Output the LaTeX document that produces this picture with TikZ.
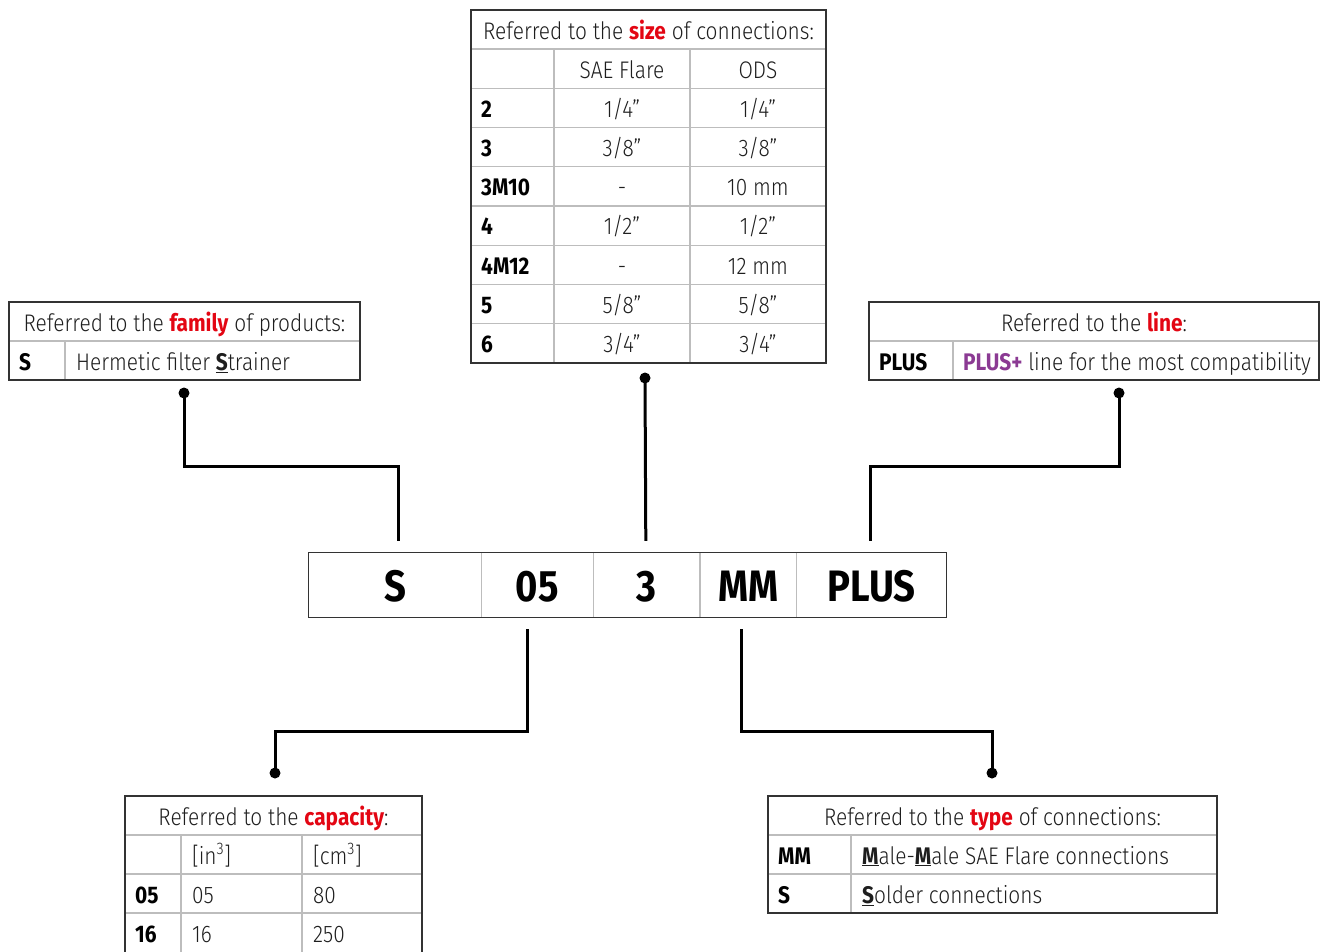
\documentclass[tikz,border=0pt]{standalone}
\usepackage{fontspec}
\setmainfont{Fira Sans}[UprightFont={* Light}, BoldFont={* Bold}, FakeStretch=0.87]
\usepackage{xcolor}
\usepackage{tikz}
\usetikzlibrary{positioning}
\definecolor{accent}{HTML}{E30613}
\definecolor{plus}{HTML}{8B3A93}
\definecolor{ink}{HTML}{1E1E1E}
\definecolor{rule}{HTML}{BDBDBD}
\definecolor{edge}{HTML}{333333}
\tikzset{
	frame/.style={draw=edge, line width=1.3pt},
	grid/.style={draw=rule, line width=1.2pt},
	link/.style={draw=black, line width=3pt},
	dot/.style={circle, fill=black, inner sep=0pt, minimum size=11pt},
	txt/.style={anchor=base, inner sep=0pt, text=ink, font=\fontsize{24}{28}\selectfont},
	left txt/.style={txt, anchor=base west},
	key/.style={txt, anchor=base west, text=black, font=\fontsize{24}{28}\selectfont\bfseries},
	cell/.style={inner sep=0pt, minimum height=64pt, text height=33pt, text depth=0pt,
		font=\fontsize{44}{48}\selectfont\bfseries}
}
\newcommand{\hl}[1]{\textcolor{accent}{\textbf{#1}}}

\begin{document}
\begin{tikzpicture}[x=1pt,y=-1pt]
	\useasboundingbox (0,0) rectangle (1325,951);

	% code
	\node [cell,minimum width=172pt] (c1) at (395,585) {S};
	\node [cell,minimum width=112pt,right=0pt of c1] (c2) {05};
	\node [cell,minimum width=106pt,right=0pt of c2] (c3) {3};
	\node [cell,minimum width=96pt,right=0pt of c3] (c4) {MM};
	\node [cell,minimum width=150pt,right=0pt of c4] (c5) {PLUS};
	\foreach \n in {c1,c2,c3,c4}
		\draw [grid] (\n.north east) -- (\n.south east);
	\draw [frame] (c1.north west) rectangle (c5.south east);

	% family
	\draw [grid] (9,341) -- (360,341) (65,341) -- (65,380);
	\draw [frame] (9,302) rectangle (360,380);
	\node [txt] (fam) at (184.5,331) {Referred to the \hl{family} of products:};
	\node [key] (famk) at (19,370) {S};
	\node [left txt] (famv) at (76,370) {Hermetic filter \underline{\textbf{S}}trainer};

	% size
	\foreach \i in {0,...,7}
		\draw [grid] (471,49+\i*39.25) -- (826,49+\i*39.25);
	\draw [grid] (554,49) -- (554,363) (690,49) -- (690,363);
	\draw [frame] (471,10) rectangle (826,363);
	\node [txt] (size) at (648.5,39) {Referred to the \hl{size} of connections:};
	\node [txt] (sae) at (622,78) {SAE Flare};
	\node [txt] (ods) at (758,78) {ODS};
	\foreach \k/\a/\b [count=\i from 0] in {2/{1/4”}/{1/4”}, 3/{3/8”}/{3/8”},
			3M10/-/10 mm, 4/{1/2”}/{1/2”}, 4M12/-/12 mm, 5/{5/8”}/{5/8”}, 6/{3/4”}/{3/4”}}{
		\node [key] (sk\i) at (481,117+\i*39.25) {\k};
		\node [txt] (sa\i) at (622,117+\i*39.25) {\a};
		\node [txt] (so\i) at (758,117+\i*39.25) {\b};
	}

	% line
	\draw [grid] (869,341) -- (1319,341) (953,341) -- (953,380);
	\draw [frame] (869,302) rectangle (1319,380);
	\node [txt] (line) at (1094,331) {Referred to the \hl{line}:};
	\node [key] (linek) at (879,370) {PLUS};
	\node [left txt] (linev) at (963,370) {\textcolor{plus}{\textbf{PLUS+}} line for the most compatibility};

	% capacity
	\draw [grid] (125,835) -- (422,835) (125,874) -- (422,874) (125,913) -- (422,913);
	\draw [grid] (181,835) -- (181,1000) (302,835) -- (302,1000);
	\draw [frame] (125,796) rectangle (422,1000);
	\node [txt] (cap) at (273.5,825) {Referred to the \hl{capacity}:};
	\node [left txt] (capin) at (192,864) {[in\textsuperscript{3}]};
	\node [left txt] (capcm) at (313,864) {[cm\textsuperscript{3}]};
	\foreach \k/\a/\b [count=\i from 0] in {05/05/80, 16/16/250}{
		\node [key] (ck\i) at (135,903+\i*39) {\k};
		\node [left txt] (ca\i) at (192,903+\i*39) {\a};
		\node [left txt] (cb\i) at (313,903+\i*39) {\b};
	}

	% type
	\draw [grid] (768,835) -- (1217,835) (768,874) -- (1217,874) (851,835) -- (851,913);
	\draw [frame] (768,796) rectangle (1217,913);
	\node [txt] (type) at (992.5,825) {Referred to the \hl{type} of connections:};
	\node [key] (tk0) at (778,864) {MM};
	\node [left txt] (tv0) at (862,864) {\underline{\textbf{M}}ale-\underline{\textbf{M}}ale SAE Flare connections};
	\node [key] (tk1) at (778,903) {S};
	\node [left txt] (tv1) at (862,903) {\underline{\textbf{S}}older connections};

	% connectors
	\node [dot] (famdot) at (184,393) {};
	\node [dot] (sizedot) at (645,378) {};
	\node [dot] (linedot) at (1119,393) {};
	\node [dot] (capdot) at (275,773) {};
	\node [dot] (typedot) at (992,773) {};
	\draw [link] (famdot.center) -- ++(0,73) -| ([shift={(3,-12)}]c1.north);
	\draw [link] (sizedot.center) -- ([shift={(-1,-12)}]c3.north);
	\draw [link] (linedot.center) -- ++(0,73) -| ([shift={(-1,-12)}]c5.north);
	\draw [link] ([shift={(-10,12)}]c2.south) -- ++(0,102) -| (capdot.center);
	\draw [link] ([shift={(-7,12)}]c4.south) -- ++(0,102) -| (typedot.center);
\end{tikzpicture}
\end{document}
